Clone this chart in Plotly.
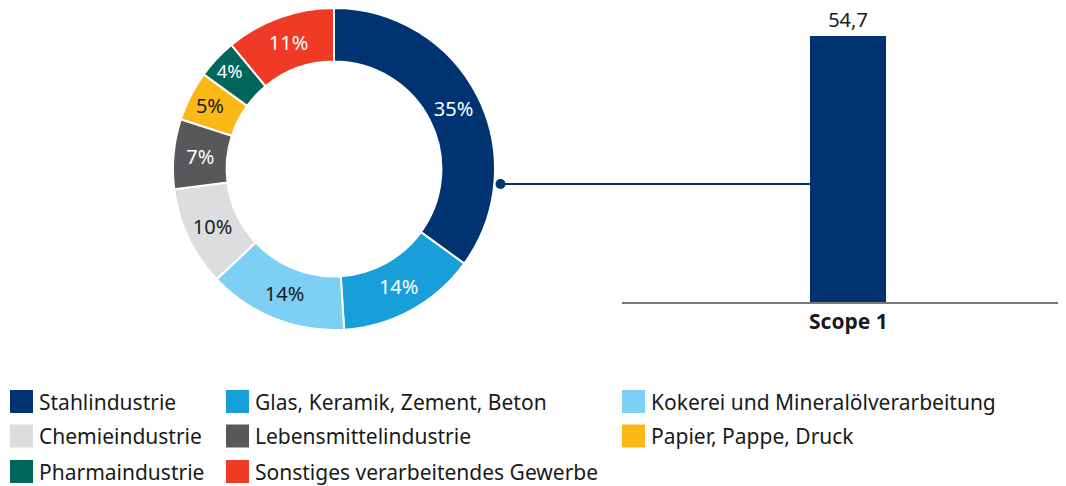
import plotly.graph_objects as go

W, H = 1058, 478  # page is 1066x486, plot div sits 8px in from the top-left
OX, OY = 8, 8
FONT = "Noto Sans, Open Sans, sans-serif"
INK = "#1a1a1a"


def px(x):
    return (x - OX) / W


def py(y):
    return 1 - (y - OY) / H


# donut: share of industry sectors (%)
sectors = [
    "Stahlindustrie",
    "Glas, Keramik, Zement, Beton",
    "Kokerei und Mineralölverarbeitung",
    "Chemieindustrie",
    "Lebensmittelindustrie",
    "Papier, Pappe, Druck",
    "Pharmaindustrie",
    "Sonstiges verarbeitendes Gewerbe",
]
shares = [35, 14, 14, 10, 7, 5, 4, 11]
colors = ["#003371", "#189ed8", "#7ecff4", "#dcdddf", "#58585a", "#fbb917", "#00655a", "#ef3a25"]
label_colors = ["white", "white", INK, INK, "white", INK, "white", "white"]

# bar: scope 1 value
bar_cats = ["<b>Scope 1</b>"]
bar_vals = [54.7]

# legend layout (3 columns, read row by row)
legend_cols = [10, 226, 622]
legend_rows = [401.5, 436, 471.5]

fig = go.Figure()

fig.add_trace(
    go.Pie(
        labels=sectors,
        values=shares,
        sort=False,
        direction="clockwise",
        rotation=0,
        hole=0.667,
        marker=dict(colors=colors, line=dict(color="white", width=2)),
        texttemplate="%{value}%",
        textposition="inside",
        insidetextorientation="horizontal",
        insidetextfont=dict(color=label_colors, size=20, family=FONT),
        domain=dict(x=[px(173), px(495)], y=[py(330), 1]),
        showlegend=False,
        hoverinfo="label+value",
    )
)

fig.add_trace(
    go.Bar(
        x=bar_cats,
        y=bar_vals,
        marker=dict(color="#003371", line=dict(width=0)),
        width=0.171,
        texttemplate="%{y:.1f}",
        textposition="outside",
        textfont=dict(color=INK, size=20, family=FONT),
        cliponaxis=False,
        showlegend=False,
    )
)

# bar baseline at page y=302, bar top at page y=36
y_max = bar_vals[0] * (302 - OY) / (302 - 36)

# connector from the donut to the bar (page y=184)
conn_y = y_max * (302 - 184) / (302 - OY)
fig.add_shape(
    type="line", xref="paper", yref="y",
    x0=px(500), x1=px(810), y0=conn_y, y1=conn_y,
    line=dict(color="#003371", width=2),
)
fig.add_shape(
    type="circle", xref="paper", yref="y", xsizemode="pixel", ysizemode="pixel",
    xanchor=px(500.5), yanchor=conn_y,
    x0=-5, x1=5, y0=-5, y1=5,
    fillcolor="#003371", line=dict(width=0),
)

# legend drawn by hand: big squares, three columns
for k, name in enumerate(sectors):
    r, c = divmod(k, 3)
    x0 = legend_cols[c]
    yc = legend_rows[r]
    fig.add_shape(
        type="rect", xref="paper", yref="paper",
        x0=px(x0), x1=px(x0 + 23),
        y0=py(yc + 11.5), y1=py(yc - 11.5),
        fillcolor=colors[k], line=dict(width=0),
    )
    fig.add_annotation(
        x=px(x0 + 27), y=py(yc), xref="paper", yref="paper",
        text=name, showarrow=False, xanchor="left", yanchor="middle",
        font=dict(color=INK, size=21, family=FONT),
    )

fig.update_layout(
    width=W,
    height=H,
    margin=dict(l=0, r=0, t=0, b=0),
    paper_bgcolor="white",
    plot_bgcolor="white",
    separators=", ",
    font=dict(family=FONT, color=INK, size=20),
    bargap=0,
)
fig.update_xaxes(
    domain=[px(622), 1],
    range=[-0.51, 0.49],
    showgrid=False,
    showline=True,
    linecolor="#7a7a7a",
    linewidth=2,
    ticks="",
    tickfont=dict(color=INK, size=21, family=FONT),
    fixedrange=True,
)
fig.update_yaxes(
    domain=[py(302), 1],
    range=[0, y_max],
    visible=False,
    fixedrange=True,
)

fig.write_html("out.html", config={"displayModeBar": False})
